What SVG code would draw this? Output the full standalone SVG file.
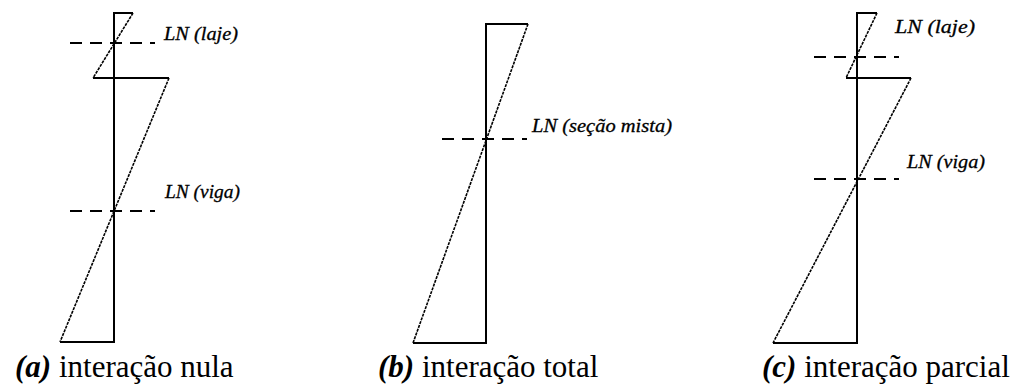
<svg xmlns="http://www.w3.org/2000/svg" width="1025" height="387" viewBox="0 0 1025 387">
<style>
.s{fill:none;stroke:#000;stroke-width:2}
.d{fill:none;stroke:#000;stroke-width:1.6;stroke-dasharray:3,1}
.ln{fill:none;stroke:#000;stroke-width:2;stroke-dasharray:12,8}
.lb{font-family:"Liberation Serif",serif;font-style:italic;font-size:19px;fill:#000;stroke:#000;stroke-width:0.3}
.cap{font-family:"Liberation Serif",serif;font-size:31px;fill:#000}
.bi{font-weight:bold;font-style:italic}
</style>
<rect width="1025" height="387" fill="#fff"/>
<g id="diagram-a">
<polyline class="s" points="133,13 114,13 114,342 60,342"/>
<polyline class="s" points="93,78 169,78"/>
<line class="d" x1="133" y1="13" x2="93" y2="78"/>
<line class="d" x1="169" y1="78" x2="60" y2="342"/>
<line class="ln" x1="70" y1="43" x2="155" y2="43"/>
<line class="ln" x1="70" y1="211" x2="155" y2="211"/>
<text class="lb" x="164" y="40" textLength="74" lengthAdjust="spacingAndGlyphs">LN (laje)</text>
<text class="lb" x="165" y="198" textLength="75" lengthAdjust="spacingAndGlyphs">LN (viga)</text>
<text class="cap" x="15" y="377"><tspan class="bi">(a)</tspan> interação nula</text>
</g>
<g id="diagram-b">
<polyline class="s" points="528,24 486,24 486,343 413,343"/>
<line class="d" x1="528" y1="24" x2="413" y2="343"/>
<line class="ln" x1="442" y1="139" x2="527" y2="139"/>
<text class="lb" x="532" y="132" textLength="140" lengthAdjust="spacingAndGlyphs">LN (seção mista)</text>
<text class="cap" x="378" y="377"><tspan class="bi">(b)</tspan> interação total</text>
</g>
<g id="diagram-c">
<polyline class="s" points="877,13 857,13 857,343 773,343"/>
<polyline class="s" points="846,78 911,78"/>
<line class="d" x1="877" y1="13" x2="846" y2="78"/>
<line class="d" x1="911" y1="78" x2="773" y2="343"/>
<line class="ln" x1="814" y1="57" x2="899" y2="57"/>
<line class="ln" x1="814" y1="179" x2="899" y2="179"/>
<text class="lb" x="895" y="33" textLength="80" lengthAdjust="spacingAndGlyphs">LN (laje)</text>
<text class="lb" x="907" y="168" textLength="78" lengthAdjust="spacingAndGlyphs">LN (viga)</text>
<text class="cap" x="762" y="377"><tspan class="bi">(c)</tspan> interação parcial</text>
</g>
</svg>
